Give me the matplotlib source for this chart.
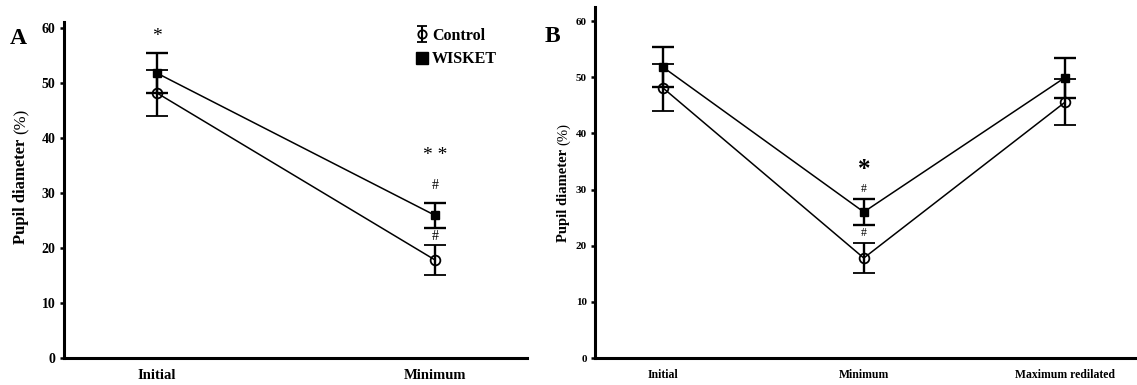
import matplotlib
matplotlib.use("Agg")
import matplotlib.pyplot as plt
from matplotlib.lines import Line2D
import numpy as np

plt.rcParams["font.family"] = ["Liberation Serif", "DejaVu Serif"]
plt.rcParams["font.weight"] = "bold"

# Panel A: two time points
cats_a = ["Initial", "Minimum"]
control_a = [48.1, 17.8]
control_a_err = [4.2, 2.7]
wisket_a = [51.7, 25.9]
wisket_a_err = [3.6, 2.3]

# Panel B: three time points
cats_b = ["Initial", "Minimum", "Maximum redilated"]
control_b = [48.1, 17.8, 45.5]
control_b_err = [4.2, 2.6, 4.1]
wisket_b = [51.8, 26.0, 49.9]
wisket_b_err = [3.6, 2.3, 3.6]

yticks = [0, 10, 20, 30, 40, 50, 60]

W, H = 1137, 385
fig = plt.figure(figsize=(W / 100, H / 100), dpi=100)

ax_a = fig.add_axes([64 / W, (H - 358) / H, 463 / W, 336 / H])
ax_b = fig.add_axes([595 / W, (H - 358) / H, 542 / W, 351 / H])


def draw_panel(ax, cats, ctrl, ctrl_err, wis, wis_err, ymax, xlim,
               tick_fs, cat_fs, lw_bar, cap):
    x = list(range(len(cats)))
    ax.plot(x, wis, color="black", lw=1.1, zorder=2)
    ax.plot(x, ctrl, color="black", lw=1.1, zorder=2)
    ax.errorbar(x, ctrl, yerr=ctrl_err, fmt="o", color="black",
                mfc="none", mec="black", ms=7, mew=1.3,
                ecolor="black", elinewidth=lw_bar, capsize=cap,
                capthick=lw_bar, zorder=3)
    ax.errorbar(x, wis, yerr=wis_err, fmt="s", color="black",
                mfc="black", mec="black", ms=6,
                ecolor="black", elinewidth=lw_bar, capsize=cap,
                capthick=lw_bar, zorder=3)
    ax.set_xlim(*xlim)
    ax.set_ylim(0, ymax)
    ax.set_yticks(yticks)
    ax.set_yticklabels([str(v) for v in yticks], fontsize=tick_fs,
                       fontweight="bold")
    ax.set_xticks(x)
    ax.set_xticklabels(cats, fontsize=cat_fs, fontweight="bold")
    ax.tick_params(axis="x", length=0, pad=8)
    ax.tick_params(axis="y", direction="out", length=3, width=1.8, pad=3)
    for s in ("top", "right"):
        ax.spines[s].set_visible(False)
    for s in ("left", "bottom"):
        ax.spines[s].set_linewidth(2.2)


draw_panel(ax_a, cats_a, control_a, control_a_err, wisket_a, wisket_a_err,
           61, (-0.335, 1.331), 10, 10.5, 1.7, 8)
draw_panel(ax_b, cats_b, control_b, control_b_err, wisket_b, wisket_b_err,
           62.5, (-0.338, 2.36), 8, 8.5, 1.7, 8)

# Y-axis titles: bold words, plain "(%)"
ax_a.text(-0.092, 0.652, "Pupil diameter", rotation=90,
          rotation_mode="anchor", ha="right", va="center",
          transform=ax_a.transAxes, fontsize=12, fontweight="bold")
ax_a.text(-0.092, 0.668, "(%)", rotation=90, rotation_mode="anchor",
          ha="left", va="center", transform=ax_a.transAxes, fontsize=12,
          fontweight="normal")
ax_b.text(-0.058, 0.595, "Pupil diameter", rotation=90,
          rotation_mode="anchor", ha="right", va="center",
          transform=ax_b.transAxes, fontsize=10.5, fontweight="bold")
ax_b.text(-0.058, 0.608, "(%)", rotation=90, rotation_mode="anchor",
          ha="left", va="center", transform=ax_b.transAxes, fontsize=10.5,
          fontweight="normal")

# Legend with compact handles
leg_ctrl = ax_a.errorbar([np.nan], [np.nan], yerr=[1], fmt="o", color="black",
                         mfc="none", mec="black", ms=6, mew=1.3,
                         ecolor="black", elinewidth=1.5, capsize=3.5,
                         capthick=1.5)
leg_wis = Line2D([], [], marker="s", ls="none", color="black", ms=8)
ax_a.legend([leg_ctrl, leg_wis], ["Control", "WISKET"], loc="upper left",
            bbox_to_anchor=(0.731, 1.025), frameon=False, handlelength=0.6,
            handletextpad=0.35, labelspacing=0.45,
            prop={"size": 11.5, "weight": "bold"})

# Significance marks, panel A
ax_a.text(0, 58.3, "*", ha="center", va="center", fontsize=14,
          fontweight="normal")
ax_a.text(1, 36.8, "* *", ha="center", va="center", fontsize=14,
          fontweight="normal")
ax_a.text(1, 31.3, "#", ha="center", va="center", fontsize=10,
          fontweight="normal")
ax_a.text(1, 22.1, "#", ha="center", va="center", fontsize=10,
          fontweight="normal")

# Significance marks, panel B
ax_b.text(1, 33.5, "*", ha="center", va="center", fontsize=18)
ax_b.text(1, 30.1, "#", ha="center", va="center", fontsize=8.5,
          fontweight="normal")
ax_b.text(1, 22.2, "#", ha="center", va="center", fontsize=8.5,
          fontweight="normal")

# Panel letters
fig.text(18 / W, 1 - 38 / H, "A", ha="center", va="center", fontsize=17,
         fontweight="bold")
fig.text(552 / W, 1 - 36 / H, "B", ha="center", va="center", fontsize=17,
         fontweight="bold")

fig.savefig("out.png", dpi=100)
